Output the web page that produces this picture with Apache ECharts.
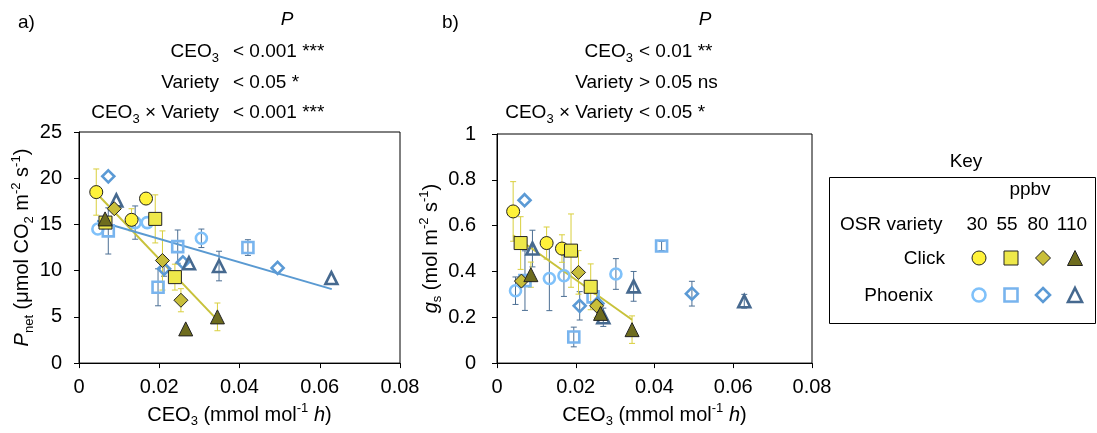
<!DOCTYPE html>
<html>
<head>
<meta charset="utf-8">
<script src="https://cdn.jsdelivr.net/npm/echarts@6.0.0/dist/echarts.min.js"></script>
<style>
html, body { margin: 0; padding: 0; background: #fff; }
#chart { width: 1097px; height: 433px; }
</style>
</head>
<body>
<div id="chart"></div>
<script>
// a) Pnet vs CEO3 : [CEO3, value, error]
var aClick30 = [[0.0043, 18.5, 2.5], [0.0131, 15.5, 1.2], [0.0167, 17.8, 0]];
var aClick55 = [[0.0066, 15.2, 0], [0.0190, 15.6, 2.6], [0.0239, 9.3, 1.4]];
var aClick80 = [[0.0088, 16.7, 0], [0.0208, 11.1, 3.2], [0.0254, 6.8, 1.25]];
var aClick110 = [[0.0065, 15.6, 0], [0.0266, 3.7, 0], [0.0345, 5.0, 1.5]];
var aPhx30 = [[0.0047, 14.5, 0], [0.0140, 15.2, 1.8], [0.0170, 15.2, 0], [0.0305, 13.5, 1.0]];
var aPhx55 = [[0.0073, 14.3, 2.5], [0.0197, 8.2, 2.0], [0.0246, 12.6, 1.8], [0.0421, 12.5, 0.85]];
var aPhx80 = [[0.0073, 20.2, 0], [0.0212, 10.2, 0.8], [0.0259, 10.9, 0], [0.0495, 10.3, 0]];
var aPhx110 = [[0.0093, 17.6, 0], [0.0274, 10.8, 0], [0.0349, 10.5, 1.6], [0.0629, 9.2, 0]];
var aClickFit = [[0.0043, 18.4], [0.0344, 4.7]];
var aPhxFit = [[0.0045, 15.4], [0.0630, 8.0]];

// b) gs vs CEO3
var bClick30 = [[0.0041, 0.662, 0.13], [0.0126, 0.524, 0.07], [0.0165, 0.5, 0.06]];
var bClick55 = [[0.0060, 0.524, 0.115], [0.0188, 0.491, 0.16], [0.0238, 0.333, 0.1]];
var bClick80 = [[0.0062, 0.358, 0], [0.0207, 0.396, 0.095], [0.0253, 0.25, 0.05]];
var bClick110 = [[0.0086, 0.386, 0.055], [0.0263, 0.217, 0], [0.0343, 0.146, 0.06]];
var bPhx30 = [[0.0047, 0.316, 0.06], [0.0133, 0.369, 0.14], [0.0170, 0.381, 0.09], [0.0302, 0.389, 0.067]];
var bPhx55 = [[0.0071, 0.36, 0.13], [0.0195, 0.114, 0.043], [0.0244, 0.289, 0], [0.0418, 0.511, 0.02]];
var bPhx80 = [[0.0070, 0.711, 0], [0.0210, 0.25, 0.062], [0.0255, 0.26, 0], [0.0495, 0.303, 0.054]];
var bPhx110 = [[0.0090, 0.5, 0.08], [0.0270, 0.2, 0.04], [0.0347, 0.335, 0.065], [0.0628, 0.27, 0.03]];
var bClickFit = [[0.0041, 0.558], [0.0343, 0.189]];

var xTicks = [0, 0.08, 0.02];
var aTicks = [0, 25, 5];
var bTicks = [0, 1, 0.2];

var statsLabels = ['{n|CEO}{s|3}', '{n|Variety}', '{n|CEO}{s|3}{n| × Variety}'];
var statsA = ['< 0.001 ***', '< 0.05 *', '< 0.001 ***'];
var statsB = ['< 0.01 **', '> 0.05 ns', '< 0.05 *'];
var keyLevels = ['30', '55', '80', '110'];
var keyRows = ['Click', 'Phoenix'];

var FF = '"Liberation Sans", Arial, sans-serif';
function richSet(fs) {
  var sub = Math.round(fs * 0.66);
  return {
    n: { fontSize: fs, fontFamily: FF, lineHeight: fs + 6, color: '#000', fill: '#000' },
    i: { fontSize: fs, fontFamily: FF, fontStyle: 'italic', lineHeight: fs + 6, color: '#000', fill: '#000' },
    s: { fontSize: sub, fontFamily: FF, lineHeight: sub, verticalAlign: 'bottom', color: '#000', fill: '#000' },
    p: { fontSize: sub, fontFamily: FF, lineHeight: sub, verticalAlign: 'top', color: '#000', fill: '#000' }
  };
}
var RICH = richSet(19);
var AXRICH = richSet(20);

var clickStyle = [
  { symbol: 'circle', color: '#FFF23A' },
  { symbol: 'rect', color: '#EEE84A' },
  { symbol: 'diamond', color: '#C8BE3A' },
  { symbol: 'triangle', color: '#6E6C1E' }
];
var phxStyle = [
  { symbol: 'circle', color: '#7FC1FA' },
  { symbol: 'rect', color: '#78B4EE' },
  { symbol: 'diamond', color: '#5B9AD5' },
  { symbol: 'triangle', color: '#46698F' }
];

function scatterSeries(data, gi, st, filled, size) {
  return {
    type: 'scatter', xAxisIndex: gi, yAxisIndex: gi, silent: true, z: 3,
    data: data.map(function (d) { return [d[0], d[1]]; }),
    symbol: st.symbol, symbolSize: st.symbol === 'triangle' || st.symbol === 'diamond' ? size + 1 : size,
    itemStyle: filled
      ? { color: st.color, borderColor: '#222', borderWidth: 1, opacity: 1 }
      : { color: 'rgba(255,255,255,0)', borderColor: st.color, borderWidth: 2.6, opacity: 1 }
  };
}

function errSeries(data, gi, color) {
  return {
    type: 'custom', xAxisIndex: gi, yAxisIndex: gi, silent: true, z: 1,
    data: data, encode: { x: 0, y: 1 },
    renderItem: function (params, api) {
      var x = api.value(0), y = api.value(1), e = api.value(2);
      if (!e) return;
      var hi = api.coord([x, y + e]), lo = api.coord([x, y - e]);
      var st = { stroke: color, lineWidth: 1 };
      return { type: 'group', children: [
        { type: 'line', shape: { x1: hi[0], y1: hi[1], x2: lo[0], y2: lo[1] }, style: st },
        { type: 'line', shape: { x1: hi[0] - 3, y1: hi[1], x2: hi[0] + 3, y2: hi[1] }, style: st },
        { type: 'line', shape: { x1: lo[0] - 3, y1: lo[1], x2: lo[0] + 3, y2: lo[1] }, style: st }
      ]};
    }
  };
}

function fitSeries(data, gi, color) {
  return { type: 'line', xAxisIndex: gi, yAxisIndex: gi, data: data, symbol: 'none', silent: true, z: 2,
    lineStyle: { color: color, width: 2 } };
}

function xAxisFor(gi) {
  return {
    gridIndex: gi, type: 'value', min: xTicks[0], max: xTicks[1], interval: xTicks[2],
    splitLine: { show: false },
    axisLine: { onZero: false, lineStyle: { color: '#000' } },
    axisTick: { length: 5, lineStyle: { color: '#000' } },
    axisLabel: { fontSize: 20, fontFamily: FF, color: '#000', margin: 14 },
    name: '{n|CEO}{s|3}{n| (mmol mol}{p|-1}{n| }{i|h}{n|)}',
    nameLocation: 'middle', nameGap: 36, nameTextStyle: { rich: AXRICH }
  };
}

function yAxisFor(gi, t, name, gap, margin) {
  return {
    gridIndex: gi, type: 'value', min: t[0], max: t[1], interval: t[2],
    splitLine: { show: false },
    axisLine: { onZero: false, lineStyle: { color: '#000' } },
    axisTick: { length: 5, lineStyle: { color: '#000' } },
    axisLabel: { fontSize: 20, fontFamily: FF, color: '#000', margin: margin },
    name: name, nameLocation: 'middle', nameRotate: 90, nameGap: gap,
    nameTextStyle: { rich: AXRICH }
  };
}

function txt(x, y, text, align) {
  return { type: 'text', x: x, y: y, silent: true,
    style: { text: text, textAlign: align, textVerticalAlign: 'middle',
      fontSize: 19, fontFamily: FF, fill: '#000', rich: RICH } };
}

var series = [];
var panels = [
  { gi: 0, click: [aClick30, aClick55, aClick80, aClick110], phx: [aPhx30, aPhx55, aPhx80, aPhx110] },
  { gi: 1, click: [bClick30, bClick55, bClick80, bClick110], phx: [bPhx30, bPhx55, bPhx80, bPhx110] }
];
panels.forEach(function (p) {
  series.push(errSeries([].concat.apply([], p.phx), p.gi, '#4C6F94'));
  series.push(errSeries([].concat.apply([], p.click), p.gi, '#D9CF3C'));
});
series.push(fitSeries(aClickFit, 0, '#C8C23A'));
series.push(fitSeries(aPhxFit, 0, '#5A9AD2'));
series.push(fitSeries(bClickFit, 1, '#C8C23A'));
panels.forEach(function (p) {
  p.phx.forEach(function (d, i) { series.push(scatterSeries(d, p.gi, phxStyle[i], false, 11)); });
  p.click.forEach(function (d, i) { series.push(scatterSeries(d, p.gi, clickStyle[i], true, 13)); });
});
// key symbols
keyLevels.forEach(function (lv, i) {
  series.push(scatterSeries([[i, 0]], 2, clickStyle[i], true, 14));
  series.push(scatterSeries([[i, 1]], 2, phxStyle[i], false, 13));
});

var graphics = [
  txt(18, 23, '{n|a)}', 'left'),
  txt(287, 20, '{i|P}', 'center'),
  txt(442, 23, '{n|b)}', 'left'),
  txt(705, 20, '{i|P}', 'center')
];
var rowsY = [52, 83, 113];
statsLabels.forEach(function (lab, i) {
  graphics.push(txt(219, rowsY[i], lab, 'right'));
  graphics.push(txt(233, rowsY[i], '{n|' + statsA[i] + '}', 'left'));
  graphics.push(txt(633, rowsY[i], lab, 'right'));
  graphics.push(txt(639, rowsY[i], '{n|' + statsB[i] + '}', 'left'));
});
graphics.push(txt(966, 162, '{n|Key}', 'center'));
graphics.push({ type: 'rect', silent: true, shape: { x: 829.5, y: 177.5, width: 266, height: 146 },
  style: { fill: 'none', stroke: '#000', lineWidth: 1 } });
graphics.push(txt(1030, 190, '{n|ppbv}', 'center'));
graphics.push(txt(840, 225, '{n|OSR variety}', 'left'));
var keyColX = [977, 1007, 1038, 1072];
keyLevels.forEach(function (lv, i) { graphics.push(txt(keyColX[i], 225, '{n|' + lv + '}', 'center')); });
graphics.push(txt(945, 259, '{n|' + keyRows[0] + '}', 'right'));
graphics.push(txt(933, 296, '{n|' + keyRows[1] + '}', 'right'));

var option = {
  animation: false,
  backgroundColor: '#fff',
  textStyle: { fontFamily: FF },
  grid: [
    { left: 79, top: 132, width: 321, height: 235, show: true, borderColor: '#000', borderWidth: 1 },
    { left: 497, top: 134, width: 315, height: 233, show: true, borderColor: '#000', borderWidth: 1 },
    { left: 979, top: 258, width: 96, height: 37 }
  ],
  xAxis: [xAxisFor(0), xAxisFor(1),
    { gridIndex: 2, type: 'value', min: 0, max: 3, show: false }],
  yAxis: [
    yAxisFor(0, aTicks, '{i|P}{s|net}{n| (μmol CO}{s|2}{n| m}{p|-2}{n| s}{p|-1}{n|)}', 35, 17),
    yAxisFor(1, bTicks, '{i|g}{s|s}{n| (mol m}{p|-2}{n| s}{p|-1}{n|)}', 48, 21),
    { gridIndex: 2, type: 'value', min: 0, max: 1, inverse: true, show: false }
  ],
  series: series,
  graphic: graphics
};

var myChart = echarts.init(document.getElementById('chart'));
myChart.setOption(option);
</script>
</body>
</html>
